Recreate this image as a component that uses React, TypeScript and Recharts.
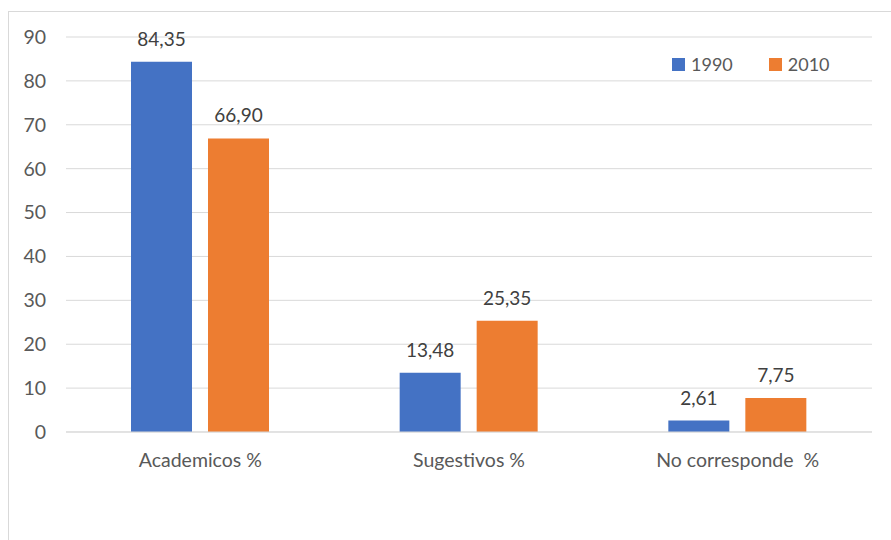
import { BarChart, Bar, XAxis, YAxis, CartesianGrid, LabelList } from "recharts";

// values
const categories = ["Academicos %", "Sugestivos %", "No corresponde\u00a0 %"];
const series1990 = [84.35, 13.48, 2.61];
const series2010 = [66.9, 25.35, 7.75];
const yTicks = [0, 10, 20, 30, 40, 50, 60, 70, 80, 90];

const BLUE = "#4472C4";
const ORANGE = "#ED7D31";
const GRID = "#D9D9D9";
const FONT = "Lato, 'Open Sans', sans-serif";

const data = categories.map((name, i) => ({
  name,
  "1990": series1990[i],
  "2010": series2010[i],
}));

const fmt = (v: any) => Number(v).toFixed(2).replace(".", ",");

const LegendBox = () => (
  <div
    style={{
      position: "absolute",
      left: 663,
      top: 41,
      display: "flex",
      alignItems: "center",
      fontFamily: FONT,
      fontSize: 18,
      color: "#595959",
    }}
  >
    {[
      { label: "1990", color: BLUE },
      { label: "2010", color: ORANGE },
    ].map((it, i) => (
      <div key={it.label} style={{ display: "flex", alignItems: "center", marginRight: i === 0 ? 36 : 0 }}>
        <span style={{ width: 13, height: 13, background: it.color, marginRight: 6, display: "inline-block" }} />
        <span>{it.label}</span>
      </div>
    ))}
  </div>
);

export default function App() {
  return (
    <div
      style={{
        position: "absolute",
        left: 8,
        top: 11,
        width: 883,
        height: 529,
        borderLeft: `1px solid ${GRID}`,
        borderTop: `1px solid ${GRID}`,
        background: "#fff",
        fontFamily: FONT,
      }}
    >
      <BarChart
        width={882}
        height={528}
        data={data}
        margin={{ top: 25, right: 19, left: 0, bottom: 78 }}
        barGap={16}
        barSize={61}
      >
        <CartesianGrid vertical={false} stroke={GRID} />
        <XAxis
          dataKey="name"
          axisLine={{ stroke: GRID }}
          tickLine={false}
          tickMargin={15}
          tick={{ fill: "#595959", fontSize: 19.5, fontFamily: FONT }}
        />
        <YAxis
          width={57}
          domain={[0, 90]}
          ticks={yTicks}
          axisLine={false}
          tickLine={false}
          tickMargin={14}
          tick={{ fill: "#595959", fontSize: 19.5, fontFamily: FONT }}
        />
        <Bar dataKey="1990" fill={BLUE} isAnimationActive={false}>
          <LabelList dataKey="1990" position="top" offset={16} formatter={fmt} fill="#404040" fontSize={19} fontFamily={FONT} />
        </Bar>
        <Bar dataKey="2010" fill={ORANGE} isAnimationActive={false}>
          <LabelList dataKey="2010" position="top" offset={16} formatter={fmt} fill="#404040" fontSize={19} fontFamily={FONT} />
        </Bar>
      </BarChart>
      <LegendBox />
    </div>
  );
}
